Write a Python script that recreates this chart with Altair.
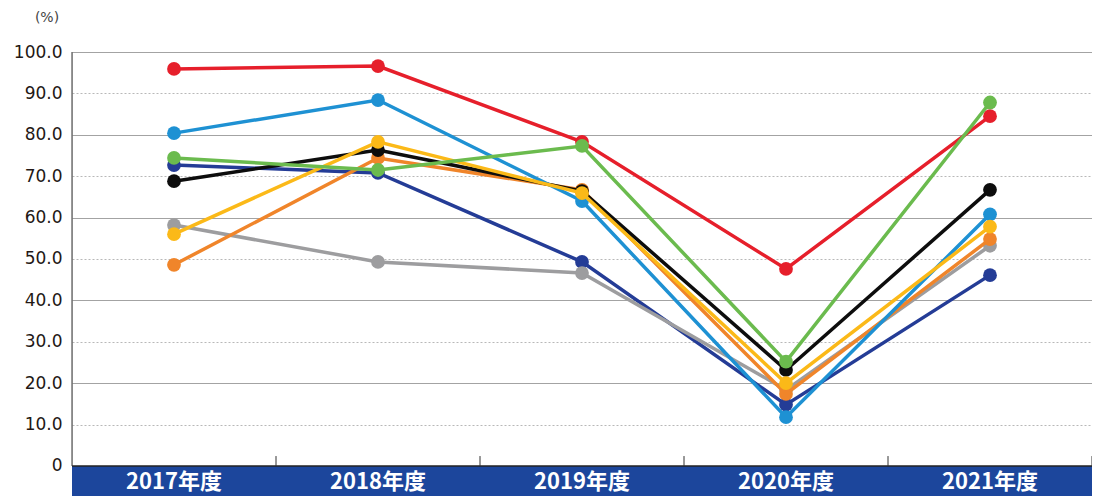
import altair as alt
import pandas as pd

# ---- data ----
years = ["2017年度", "2018年度", "2019年度", "2020年度", "2021年度"]

# series listed in drawing order (bottom → top)
series_names = ["系列1", "系列2", "系列3", "系列4", "系列5", "系列6", "系列7", "系列8"]
series_colors = ["#e61f2b", "#243c96", "#9d9d9f", "#f0852a", "#0d0d0d", "#1e91d3", "#fbb918", "#6bbb4e"]

s_red = [95.9, 96.6, 78.3, 47.6, 84.5]
s_navy = [72.7, 70.8, 49.3, 14.8, 46.1]
s_gray = [58.2, 49.3, 46.6, 18.4, 53.2]
s_orange = [48.6, 74.4, 66.7, 17.4, 54.8]
s_black = [68.8, 76.3, 66.4, 23.2, 66.7]
s_lightblue = [80.4, 88.4, 64.0, 11.8, 60.8]
s_yellow = [56.0, 78.3, 65.9, 20.0, 57.8]
s_green = [74.4, 71.5, 77.3, 25.2, 87.8]

series_values = [s_red, s_navy, s_gray, s_orange, s_black, s_lightblue, s_yellow, s_green]

y_ticks = [0, 10, 20, 30, 40, 50, 60, 70, 80, 90, 100]
band_bottom = -7.25  # bottom of the blue category band, in axis units
tick_len = 2.4       # boundary tick height, in axis units

FONT = "DejaVu Sans"
CJK = "Noto Sans CJK JP"
BAND_BLUE = "#1c469c"

x_enc_field = "year:N"
x_scale = alt.Scale(domain=years, paddingInner=0, paddingOuter=0)
y_scale = alt.Scale(domain=[band_bottom, 100], nice=False, zero=False)

# ---- base with y axis / grid ----
axis_df = pd.DataFrame({"year": years})
base_axis = (
    alt.Chart(axis_df)
    .mark_point(opacity=0)
    .encode(
        x=alt.X(x_enc_field, scale=x_scale, axis=None),
        y=alt.Y(
            "v:Q",
            scale=y_scale,
            axis=alt.Axis(
                values=y_ticks,
                title=None,
                domain=False,
                ticks=False,
                labelPadding=10,
                labelFont=FONT,
                labelFontSize=17,
                labelColor="#231815",
                labelExpr="datum.value == 0 ? '0' : format(datum.value, '.1f')",
                grid=True,
                gridColor={"condition": {"test": "datum.value % 20 != 0", "value": "#b8b8b8"}, "value": "#a3a3a3"},
                gridDash={"condition": {"test": "datum.value % 20 != 0", "value": [2, 2]}, "value": []},
                gridWidth=1,
            ),
        ),
    )
    .transform_calculate(v="50")
)

# ---- blue category band ----
band_df = pd.DataFrame({"year": years, "lo": [band_bottom] * 5, "hi": [0] * 5})
band = (
    alt.Chart(band_df)
    .mark_rect(color=BAND_BLUE)
    .encode(
        x=alt.X(x_enc_field, scale=x_scale, axis=None),
        y=alt.Y("lo:Q", scale=y_scale),
        y2="hi:Q",
    )
)
band_text = (
    alt.Chart(band_df)
    .mark_text(color="white", font=CJK, fontSize=22, fontWeight="bold", baseline="middle", dy=1)
    .encode(
        x=alt.X(x_enc_field, scale=x_scale, axis=None),
        y=alt.datum(band_bottom / 2, type="quantitative", scale=y_scale),
        text="year:N",
    )
)

# boundary ticks
tick_df = pd.DataFrame({"year": years[1:], "lo": [0] * 4, "hi": [tick_len] * 4})
ticks_left = (
    alt.Chart(tick_df)
    .mark_rule(color="#333333", strokeWidth=1)
    .encode(
        x=alt.X(x_enc_field, scale=x_scale, axis=None, bandPosition=0),
        y=alt.Y("lo:Q", scale=y_scale),
        y2="hi:Q",
    )
)
tick_end_df = pd.DataFrame({"year": years[-1:], "lo": [0], "hi": [tick_len]})
ticks_right = (
    alt.Chart(tick_end_df)
    .mark_rule(color="#333333", strokeWidth=1)
    .encode(
        x=alt.X(x_enc_field, scale=x_scale, axis=None, bandPosition=1),
        y=alt.Y("lo:Q", scale=y_scale),
        y2="hi:Q",
    )
)

# axis lines
zero_df = pd.DataFrame({"a": [0]})
x_line = (
    alt.Chart(zero_df)
    .mark_rule(color="#222222", strokeWidth=1.5)
    .encode(y=alt.Y("a:Q", scale=y_scale), x=alt.value(0), x2=alt.value(1020))
)
y_line_df = pd.DataFrame({"lo": [0], "hi": [100]})
y_line = (
    alt.Chart(y_line_df)
    .mark_rule(color="#333333", strokeWidth=1)
    .encode(x=alt.value(0), y=alt.Y("lo:Q", scale=y_scale), y2="hi:Q")
)

# ---- series ----
series_layers = []
for name, color, vals in zip(series_names, series_colors, series_values):
    df = pd.DataFrame({"year": years, "value": vals, "series": name})
    enc = dict(
        x=alt.X(x_enc_field, scale=x_scale, axis=None),
        y=alt.Y("value:Q", scale=y_scale),
    )
    series_layers.append(alt.Chart(df).mark_line(color=color, strokeWidth=3.5).encode(**enc))
    series_layers.append(
        alt.Chart(df).mark_circle(color=color, size=190, opacity=1).encode(**enc)
    )

unit_label = (
    alt.Chart(zero_df)
    .mark_text(text="(%)", font=FONT, fontSize=14, color="#444444", align="center", baseline="middle")
    .encode(x=alt.value(-25), y=alt.value(-34))
)

chart = (
    alt.layer(
        base_axis, band, x_line, y_line, ticks_left, ticks_right, band_text, *series_layers, unit_label
    )
    .properties(
        width=1020,
        height=444,
        padding={"left": 64, "top": 44, "right": 0, "bottom": 0},
        autosize=alt.AutoSizeParams(type="none"),
    )
    .configure_view(stroke=None)
    .configure(background="white")
)

chart.save("out.html", embed_options={"renderer": "svg", "actions": False})
